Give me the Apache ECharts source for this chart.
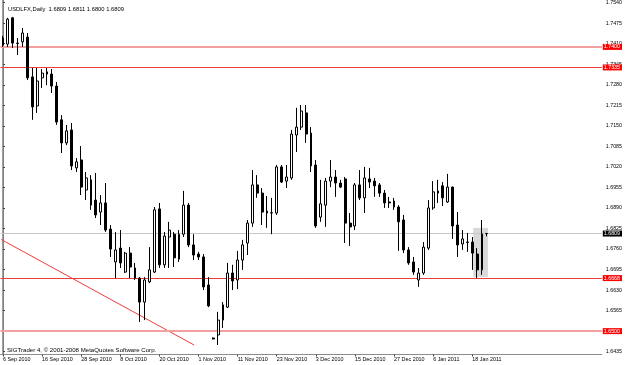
<!DOCTYPE html>
<html><head><meta charset="utf-8">
<script src="https://cdn.jsdelivr.net/npm/echarts@6/dist/echarts.min.js"></script>
<style>html,body{margin:0;padding:0;background:#fff}#c{width:625px;height:365px}</style>
</head><body><div id="c"></div>
<script>
// ---- data ----
const openP = [1.7428,1.7409,1.7492,1.7412,1.7416,1.7431,1.7305,1.7213,1.7302,1.7314,
1.7314,1.7276,1.7169,1.7096,1.7137,1.7017,1.7042,1.6947,1.6979,1.6915,
1.6877,1.6906,1.6823,1.6719,1.6763,1.6687,1.6747,1.6668,1.6668,1.6592,
1.6656,1.6687,1.6887,1.6710,1.6798,1.6807,1.6728,1.6807,1.6899,1.6773,
1.6744,1.6735,1.6646,1.6478,1.6488,1.6535,1.6576,1.6684,1.6662,1.6725,
1.6779,1.6842,1.6963,1.6937,1.6880,1.6874,1.6874,1.7020,1.6975,1.6985,
1.7121,1.7146,1.7191,1.7127,1.7026,1.6861,1.6899,1.6975,1.6988,1.6969,
1.6982,1.6842,1.6833,1.6963,1.6922,1.6982,1.6975,1.6963,1.6937,1.6909,
1.6912,1.6893,1.6852,1.6757,1.6719,1.6662,1.6684,1.6763,1.6890,1.6944,
1.6960,1.6909,1.6956,1.6836,1.6776,1.6782,1.6782,1.6744,1.6694,1.6809];
const highP = [1.7435,1.7492,1.7495,1.7428,1.7460,1.7444,1.7333,1.7333,1.7330,1.7333,
1.7330,1.7289,1.7184,1.7153,1.7159,1.7048,1.7086,1.7004,1.6994,1.7001,
1.6931,1.6969,1.6836,1.6814,1.6820,1.6751,1.6766,1.6716,1.6671,1.6671,
1.6766,1.6893,1.6906,1.6814,1.6846,1.6814,1.6820,1.6944,1.6906,1.6807,
1.6751,1.6744,1.6671,1.6480,1.6561,1.6592,1.6716,1.6710,1.6754,1.6789,
1.6852,1.7010,1.6994,1.6953,1.6928,1.6922,1.7026,1.7026,1.7026,1.7137,
1.7207,1.7216,1.7216,1.7146,1.7042,1.6979,1.6985,1.7042,1.7010,1.6979,
1.6988,1.6874,1.6969,1.7010,1.7020,1.7017,1.6985,1.6969,1.6947,1.6925,
1.6922,1.6899,1.6868,1.6766,1.6735,1.6700,1.6782,1.6915,1.6975,1.6979,
1.6972,1.6998,1.6958,1.6877,1.6820,1.6811,1.6798,1.6763,1.6852,1.6811];
const lowP = [1.7400,1.7400,1.7397,1.7374,1.7400,1.7295,1.7169,1.7191,1.7270,1.7279,
1.7254,1.7153,1.7064,1.7089,1.7010,1.7004,1.6931,1.6915,1.6884,1.6858,
1.6836,1.6814,1.6735,1.6668,1.6700,1.6684,1.6668,1.6662,1.6529,1.6535,
1.6652,1.6684,1.6700,1.6700,1.6700,1.6703,1.6719,1.6798,1.6766,1.6725,
1.6725,1.6630,1.6576,1.6474,1.6456,1.6510,1.6573,1.6630,1.6633,1.6694,
1.6741,1.6830,1.6922,1.6836,1.6827,1.6807,1.6868,1.6969,1.6953,1.6979,
1.7067,1.7137,1.7096,1.7004,1.6827,1.6846,1.6830,1.6956,1.6925,1.6953,
1.6779,1.6770,1.6820,1.6915,1.6874,1.6953,1.6925,1.6925,1.6890,1.6890,
1.6884,1.6754,1.6747,1.6710,1.6678,1.6640,1.6678,1.6757,1.6884,1.6906,
1.6896,1.6906,1.6792,1.6735,1.6757,1.6751,1.6694,1.6668,1.6678,1.6800];
const closeP = [1.7406,1.7488,1.7412,1.7411,1.7444,1.7302,1.7210,1.7292,1.7317,1.7321,
1.7276,1.7162,1.7096,1.7134,1.7023,1.7036,1.6956,1.6985,1.6899,1.6868,
1.6906,1.6820,1.6760,1.6757,1.6716,1.6747,1.6703,1.6700,1.6592,1.6662,
1.6694,1.6884,1.6710,1.6801,1.6820,1.6732,1.6807,1.6899,1.6773,1.6741,
1.6735,1.6640,1.6580,1.6475,1.6535,1.6583,1.6684,1.6659,1.6725,1.6773,
1.6842,1.6963,1.6937,1.6877,1.6874,1.6875,1.7020,1.6972,1.6988,1.7124,
1.7146,1.7197,1.7124,1.7023,1.6833,1.6903,1.6975,1.6988,1.6969,1.6956,
1.6842,1.6830,1.6963,1.6922,1.6985,1.6972,1.6960,1.6937,1.6906,1.6906,
1.6893,1.6846,1.6757,1.6716,1.6687,1.6684,1.6766,1.6890,1.6941,1.6937,
1.6922,1.6956,1.6833,1.6773,1.6792,1.6781,1.6747,1.6694,1.6808,1.6809];

const xTickLabels = ['6 Sep 2010','16 Sep 2010','28 Sep 2010','8 Oct 2010','20 Oct 2010','1 Nov 2010',
  '11 Nov 2010','23 Nov 2010','3 Dec 2010','15 Dec 2010','27 Dec 2010','6 Jan 2011','18 Jan 2011'];
const yTicks = [1.7540,1.7475,1.7410,1.7345,1.7280,1.7215,1.7150,1.7085,1.7020,1.6955,
  1.6890,1.6825,1.6760,1.6695,1.6630,1.6565,1.6500,1.6435];
const levelsStrong = [1.7335, 1.6668];   // red lines
const levelsSoft = [1.7400, 1.6500];     // light red lines
const currentPrice = 1.6809;
const trendLine = [[-0.35, 1.6790], [39.1, 1.6456]];   // [bar index, price]
const boxRange = {from: 96.2, to: 99.2, top: 1.6827, bottom: 1.6671};
const yMin = 1.6426, yMax = 1.75485;
const titleText = 'USDLFX,Daily  1.6809 1.6811 1.6800 1.6809';
const footerText = 'SIGTrader 4, \u00a9 2001-2008 MetaQuotes Software Corp.';

// ---- categories: trading days starting 6 Sep 2010 ----
const months = ['Jan','Feb','Mar','Apr','May','Jun','Jul','Aug','Sep','Oct','Nov','Dec'];
const categories = [];
let d = new Date(Date.UTC(2010, 8, 6));
while (categories.length < openP.length) {
  const wd = d.getUTCDay();
  if (wd !== 0 && wd !== 6) categories.push(d.getUTCDate() + ' ' + months[d.getUTCMonth()] + ' ' + d.getUTCFullYear());
  d = new Date(d.getTime() + 86400000);
}
const emptySlots = 23;
for (let k = 0; k < emptySlots; k++) categories.push('');

const candleData = openP.map((o, i) => [o, closeP[i], lowP[i], highP[i]]);
const FONT = 'Liberation Sans, Arial, sans-serif';
const showTick = (i, v) => xTickLabels.indexOf(v) >= 0;

function tag(v, bg) {
  return {show: true, position: 'end', distance: 1, formatter: v.toFixed(4), backgroundColor: bg,
    color: '#fff', fontSize: 5.3, fontFamily: FONT, padding: [1, 2, 0, 1]};
}
const markLines = [];
levelsSoft.forEach(v => markLines.push({yAxis: v, lineStyle: {color: '#f5a0a0', width: 2, type: 'solid'}, label: tag(v, '#ff0000')}));
levelsStrong.forEach(v => markLines.push({yAxis: v, lineStyle: {color: '#ec3c3c', width: 1, type: 'solid'}, label: tag(v, '#ff0000')}));
markLines.push({yAxis: currentPrice, lineStyle: {color: '#c8c8c8', width: 1, type: 'solid'}, label: tag(currentPrice, '#000')});

const chart = echarts.init(document.getElementById('c'), null, {renderer: 'canvas'});
chart.setOption({
  animation: false,
  backgroundColor: '#fff',
  title: [
    {text: titleText, left: 3, top: 1, textStyle: {fontSize: 5.8, fontWeight: 'normal', color: '#000', fontFamily: FONT}},
    {text: footerText, left: 2, top: 342, textStyle: {fontSize: 6.1, fontWeight: 'normal', color: '#000', fontFamily: FONT}}
  ],
  grid: {left: -0.75, top: 0, width: 603, height: 354.5, containLabel: false},
  xAxis: [
    {type: 'category', data: categories, boundaryGap: true,
     axisLine: {show: true, lineStyle: {color: '#8c8c8c', width: 1}},
     axisTick: {show: true, alignWithLabel: true, interval: showTick, length: 2, lineStyle: {color: '#444'}},
     axisLabel: {interval: showTick, align: 'left', fontSize: 5.4, margin: 3, color: '#000', fontFamily: FONT},
     splitLine: {show: false}},
    {type: 'value', min: -0.5, max: categories.length - 0.5, show: false}
  ],
  yAxis: [
    {type: 'value', position: 'right', min: yMin, max: yMax, scale: true,
     axisLine: {show: true, lineStyle: {color: '#a0a0a0', width: 2}},
     axisTick: {show: true, customValues: yTicks, length: 2, lineStyle: {color: '#444'}},
     axisLabel: {customValues: yTicks, formatter: v => v.toFixed(4), fontSize: 5.3, margin: 4, color: '#000', fontFamily: FONT},
     splitLine: {show: false}},
    {type: 'value', position: 'left', offset: -2.5, min: yMin, max: yMax, scale: true,
     axisLine: {show: true, lineStyle: {color: '#808080', width: 1}},
     axisTick: {show: false}, axisLabel: {show: false}, splitLine: {show: false}}
  ],
  series: [
    {type: 'line', xAxisIndex: 1, yAxisIndex: 0, data: trendLine, symbol: 'none', z: 1,
     lineStyle: {color: '#f03c3c', width: 1}, silent: true,
     markArea: {silent: true, itemStyle: {color: '#d9d9d9'},
       data: [[{coord: [boxRange.from, boxRange.top]}, {coord: [boxRange.to, boxRange.bottom]}]]}},
    {type: 'candlestick', xAxisIndex: 0, yAxisIndex: 0, data: candleData, barWidth: 2.4, z: 3,
     itemStyle: {color: '#fff', color0: '#000', borderColor: '#000', borderColor0: '#000', borderWidth: 1},
     markLine: {silent: true, precision: 4, symbol: ['none', 'none'], z: 2, data: markLines}}
  ]
});
</script></body></html>
